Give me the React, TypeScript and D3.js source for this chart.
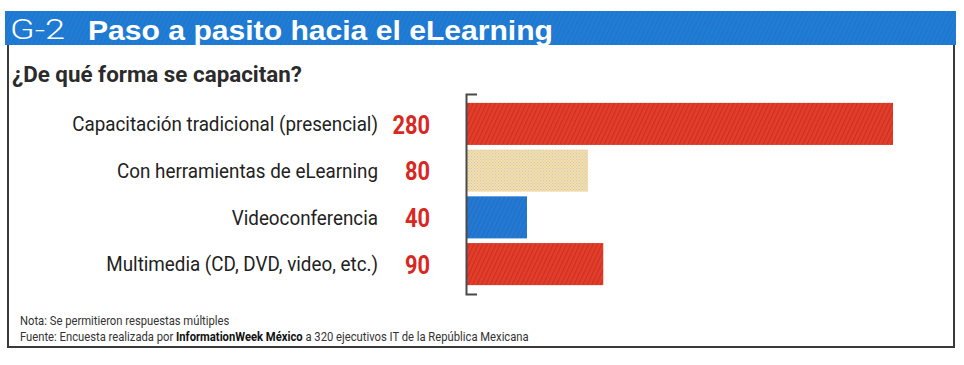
import React, { useEffect, useRef } from 'react';
import * as d3 from 'd3';

const categories = [
  'Capacitación tradicional (presencial)',
  'Con herramientas de eLearning',
  'Videoconferencia',
  'Multimedia (CD, DVD, video, etc.)',
];
const values = [280, 80, 40, 90];
const fills = ['url(#redHatch)', 'url(#beigeDots)', 'url(#blueHatch)', 'url(#redHatch)'];

const W = 964;
const H = 365;
const font = 'Roboto, "Liberation Sans", Arial, sans-serif';

// squeeze a text element horizontally to imitate a condensed face
function condense(sel: d3.Selection<SVGTextElement, any, any, any>, k: number) {
  sel.each(function () {
    const len = this.getComputedTextLength();
    d3.select(this).attr('textLength', len * k).attr('lengthAdjust', 'spacingAndGlyphs');
  });
}

export default function App() {
  const ref = useRef<SVGSVGElement>(null);

  useEffect(() => {
    const svg = d3.select(ref.current);
    svg.selectAll('*').remove();

    // patterns to mimic the printed texture
    const defs = svg.append('defs');
    const hatch = (id: string, base: string, line: string) => {
      const p = defs.append('pattern')
        .attr('id', id)
        .attr('width', 4).attr('height', 4)
        .attr('patternUnits', 'userSpaceOnUse')
        .attr('patternTransform', 'rotate(25)');
      p.append('rect').attr('width', 4).attr('height', 4).attr('fill', base);
      p.append('rect').attr('width', 1.2).attr('height', 4).attr('fill', line);
    };
    hatch('redHatch', '#e43d2c', '#c9321f');
    hatch('blueHatch', '#1f7bd6', '#2a6cc0');
    hatch('headHatch', '#1b7fd8', '#2a70c6');
    const dots = defs.append('pattern')
      .attr('id', 'beigeDots')
      .attr('width', 3).attr('height', 3)
      .attr('patternUnits', 'userSpaceOnUse');
    dots.append('rect').attr('width', 3).attr('height', 3).attr('fill', '#f1dfae');
    dots.append('rect').attr('width', 1).attr('height', 1).attr('fill', '#c9c6c8');
    dots.append('rect').attr('x', 1.5).attr('y', 1.5).attr('width', 1).attr('height', 1).attr('fill', '#e7c98f');

    svg.append('rect').attr('width', W).attr('height', H).attr('fill', '#fff');

    // frame
    svg.append('path')
      .attr('d', 'M8,45 V347 H954 V45')
      .attr('fill', 'none')
      .attr('stroke', '#3a3a3a')
      .attr('stroke-width', 2);

    // header band
    svg.append('rect')
      .attr('x', 5).attr('y', 11).attr('width', 951).attr('height', 34)
      .attr('fill', 'url(#headHatch)');
    svg.append('text')
      .attr('x', 10).attr('y', 39)
      .attr('fill', '#fff')
      .style('font-family', font)
      .style('font-size', '27px')
      .style('font-weight', 300)
      .attr('textLength', 55)
      .attr('lengthAdjust', 'spacingAndGlyphs')
      .text('G-2');
    svg.append('text')
      .attr('x', 88).attr('y', 40)
      .attr('fill', '#fff')
      .style('font-family', '"Liberation Sans", Arial, sans-serif')
      .style('font-size', '28px')
      .style('font-weight', 'bold')
      .attr('textLength', 465)
      .attr('lengthAdjust', 'spacingAndGlyphs')
      .text('Paso a pasito hacia el eLearning');

    svg.append('text')
      .attr('x', 12).attr('y', 82)
      .attr('fill', '#2b2b2b')
      .style('font-family', font)
      .style('font-size', '22px')
      .style('font-weight', 'bold')
      .attr('textLength', 290)
      .attr('lengthAdjust', 'spacingAndGlyphs')
      .text('¿De qué forma se capacitan?');

    const y = d3.scaleBand<string>()
      .domain(categories)
      .range([94, 294])
      .paddingInner(0.1)
      .paddingOuter(0.19);
    const x = d3.scaleLinear().domain([0, 280]).range([466, 893]);

    const rows = categories.map((c, i) => ({ c, v: values[i], f: fills[i] }));

    svg.append('g')
      .selectAll('rect')
      .data(rows)
      .join('rect')
      .attr('x', x(0))
      .attr('y', d => y(d.c)!)
      .attr('width', d => x(d.v) - x(0))
      .attr('height', y.bandwidth())
      .attr('fill', d => d.f);

    // axis: domain line with outer ticks turned to the right
    const axis = svg.append('g')
      .attr('transform', `translate(${x(0)},0)`)
      .call(d3.axisLeft(y).tickValues([]).tickSizeOuter(-11));
    axis.select('.domain').attr('stroke', '#4a4a4a').attr('stroke-width', 2);

    const labels = svg.append('g')
      .selectAll<SVGTextElement, any>('text')
      .data(rows)
      .join('text')
      .attr('x', 378)
      .attr('y', d => y(d.c)! + y.bandwidth() / 2)
      .attr('dy', '0.36em')
      .attr('text-anchor', 'end')
      .attr('fill', '#222')
      .style('font-family', font)
      .style('font-size', '20px')
      .text(d => d.c);
    condense(labels, 0.94);

    const nums = svg.append('g')
      .selectAll<SVGTextElement, any>('text')
      .data(rows)
      .join('text')
      .attr('x', 430)
      .attr('y', d => y(d.c)! + y.bandwidth() / 2)
      .attr('dy', '0.37em')
      .attr('text-anchor', 'end')
      .attr('fill', '#d9281f')
      .style('font-family', font)
      .style('font-size', '26px')
      .style('font-weight', 'bold')
      .text(d => String(d.v));
    condense(nums, 0.84);

    // footnotes
    const foot = svg.append('g')
      .attr('transform', 'translate(20,0) scale(0.9,1)')
      .attr('fill', '#333')
      .style('font-family', font)
      .style('font-size', '12.5px');
    foot.append('text').attr('x', 0).attr('y', 325).text('Nota: Se permitieron respuestas múltiples');
    const src = foot.append('text').attr('x', 0).attr('y', 341);
    src.append('tspan').text('Fuente: Encuesta realizada por ');
    src.append('tspan').style('font-weight', 'bold').attr('fill', '#111').text('InformationWeek México');
    src.append('tspan').text(' a 320 ejecutivos IT de la República Mexicana');
  }, []);

  return (
    <svg
      ref={ref}
      width={W}
      height={H}
      style={{ position: 'absolute', left: 0, top: 0 }}
    />
  );
}
